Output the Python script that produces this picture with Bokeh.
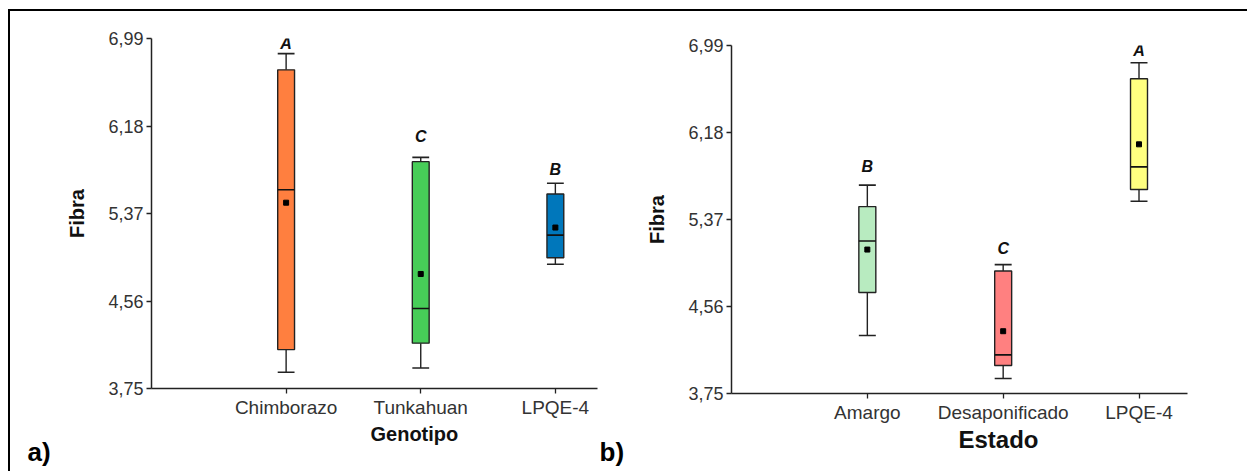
from bokeh.plotting import figure
from bokeh.models import Range1d, FixedTicker, Title
from bokeh.layouts import row
from bokeh.embed import file_html
from bokeh.resources import INLINE

# ---------------- data ----------------
y_ticks = [3.75, 4.56, 5.37, 6.18, 6.99]

genotipo = ["Chimborazo", "Tunkahuan", "LPQE-4"]
g_wmin = [3.90, 3.94, 4.90]
g_q1 = [4.11, 4.17, 4.96]
g_med = [5.59, 4.49, 5.17]
g_q3 = [6.70, 5.85, 5.55]
g_wmax = [6.85, 5.89, 5.65]
g_mean = [5.47, 4.81, 5.24]
g_letters = ["A", "C", "B"]
g_letter_y = [6.94, 6.08, 5.78]
g_colors = ["#FF7F3F", "#47CD58", "#0077BB"]

estado = ["Amargo", "Desaponificado", "LPQE-4"]
e_wmin = [4.29, 3.89, 5.54]
e_q1 = [4.69, 4.01, 5.65]
e_med = [5.17, 4.11, 5.86]
e_q3 = [5.49, 4.89, 6.68]
e_wmax = [5.69, 4.95, 6.83]
e_mean = [5.09, 4.33, 6.07]
e_letters = ["B", "C", "A"]
e_letter_y = [5.86, 5.10, 6.94]
e_colors = ["#B8EBC0", "#FF8080", "#FFFF80"]

panel_tags = ["a)", "b)"]

FONT = "Liberation Sans"
BOXW = 0.125


def panel(cats, wmin, q1, med, q3, wmax, mean, letters, letter_y, colors,
          width, height, x_end, mb):
    xs = list(range(1, len(cats) + 1))
    p = figure(width=width, height=height, x_range=Range1d(0, x_end),
               y_range=Range1d(y_ticks[0], y_ticks[-1]),
               output_backend="svg", toolbar_location=None,
               min_border_left=mb[0], min_border_right=mb[1],
               min_border_top=mb[2], min_border_bottom=mb[3])
    p.frame_align = False
    p.grid.visible = False
    p.outline_line_color = None
    p.background_fill_color = "white"
    p.border_fill_color = "white"

    lo = [x - BOXW / 2 for x in xs]
    hi = [x + BOXW / 2 for x in xs]
    # whiskers
    p.segment(x0=xs, x1=xs, y0=q3, y1=wmax, line_color="#222222", line_width=1.4)
    p.segment(x0=xs, x1=xs, y0=wmin, y1=q1, line_color="#222222", line_width=1.4)
    p.segment(x0=lo, x1=hi, y0=wmax, y1=wmax, line_color="#222222", line_width=1.6)
    p.segment(x0=lo, x1=hi, y0=wmin, y1=wmin, line_color="#222222", line_width=1.6)
    # boxes
    p.vbar(x=xs, width=BOXW, bottom=q1, top=q3, fill_color=colors,
           line_color="#222222", line_width=1.4)
    # median
    p.segment(x0=lo, x1=hi, y0=med, y1=med, line_color="#111111", line_width=1.6)
    # mean
    p.scatter(x=xs, y=mean, marker="square", size=5, color="black")
    # letters
    p.text(x=xs, y=letter_y, text=letters, text_align="center",
           text_baseline="middle", text_font={"value": FONT},
           text_font_style="bold italic", text_font_size="16px",
           text_color="#111111")

    # axes
    ya = p.yaxis[0]
    ya.ticker = FixedTicker(ticks=y_ticks)
    ya.major_label_overrides = {v: f"{v:.2f}".replace(".", ",") for v in y_ticks}
    ya.minor_tick_line_color = None
    ya.major_tick_out = 5
    ya.major_tick_in = 0
    ya.major_label_standoff = 3
    ya.axis_line_width = 1.5
    ya.axis_line_color = "#222222"
    ya.major_tick_line_color = "#222222"
    ya.major_tick_line_width = 1.3
    ya.major_label_text_font = FONT
    ya.major_label_text_font_size = "18px"
    ya.major_label_text_color = "#333333"
    ya.axis_label = "Fibra"
    ya.axis_label_text_font = FONT
    ya.axis_label_text_font_style = "bold"
    ya.axis_label_text_font_size = "20px"
    ya.axis_label_text_color = "#111111"
    ya.axis_label_standoff = 17

    xa = p.xaxis[0]
    xa.ticker = FixedTicker(ticks=xs)
    xa.major_label_overrides = {x: c for x, c in zip(xs, cats)}
    xa.minor_tick_line_color = None
    xa.major_tick_out = 5
    xa.major_tick_in = 0
    xa.major_label_standoff = 3
    xa.axis_line_width = 1.5
    xa.axis_line_color = "#222222"
    xa.major_tick_line_color = "#222222"
    xa.major_tick_line_width = 1.3
    xa.major_label_text_font = FONT
    xa.major_label_text_font_size = "19px"
    xa.major_label_text_color = "#333333"
    return p


p1 = panel(genotipo, g_wmin, g_q1, g_med, g_q3, g_wmax, g_mean, g_letters,
           g_letter_y, g_colors, 630, 460, 3.313, (141, 43, 27, 83))
p1.add_layout(Title(text="Genotipo", align="left", offset=219, standoff=0,
                    text_font=FONT, text_font_style="bold",
                    text_font_size="20px", text_color="#111111"), "below")
# panel tags "a)" and "b)" on one line below the left panel
tag_line = panel_tags[0] + "\u00a0" * 76 + panel_tags[1]
p1.add_layout(Title(text=tag_line, align="left", offset=-124, standoff=-20,
                    text_font=FONT, text_font_style="bold",
                    text_font_size="26px", text_color="#000000"), "below")

p2 = panel(estado, e_wmin, e_q1, e_med, e_q3, e_wmax, e_mean, e_letters,
           e_letter_y, e_colors, 607, 460, 3.357, (91, 60, 34, 78))
p2.add_layout(Title(text="Estado", align="left", offset=227, standoff=0,
                    vertical_align="top", text_font=FONT,
                    text_font_style="bold", text_font_size="24px",
                    text_color="#111111"), "below")

layout = row(p1, p2)
layout.margin = (9, 0, 0, 8)
layout.styles = {"border-top": "2px solid black", "border-left": "2px solid black"}

open("out.html", "w").write(file_html(layout, INLINE))
